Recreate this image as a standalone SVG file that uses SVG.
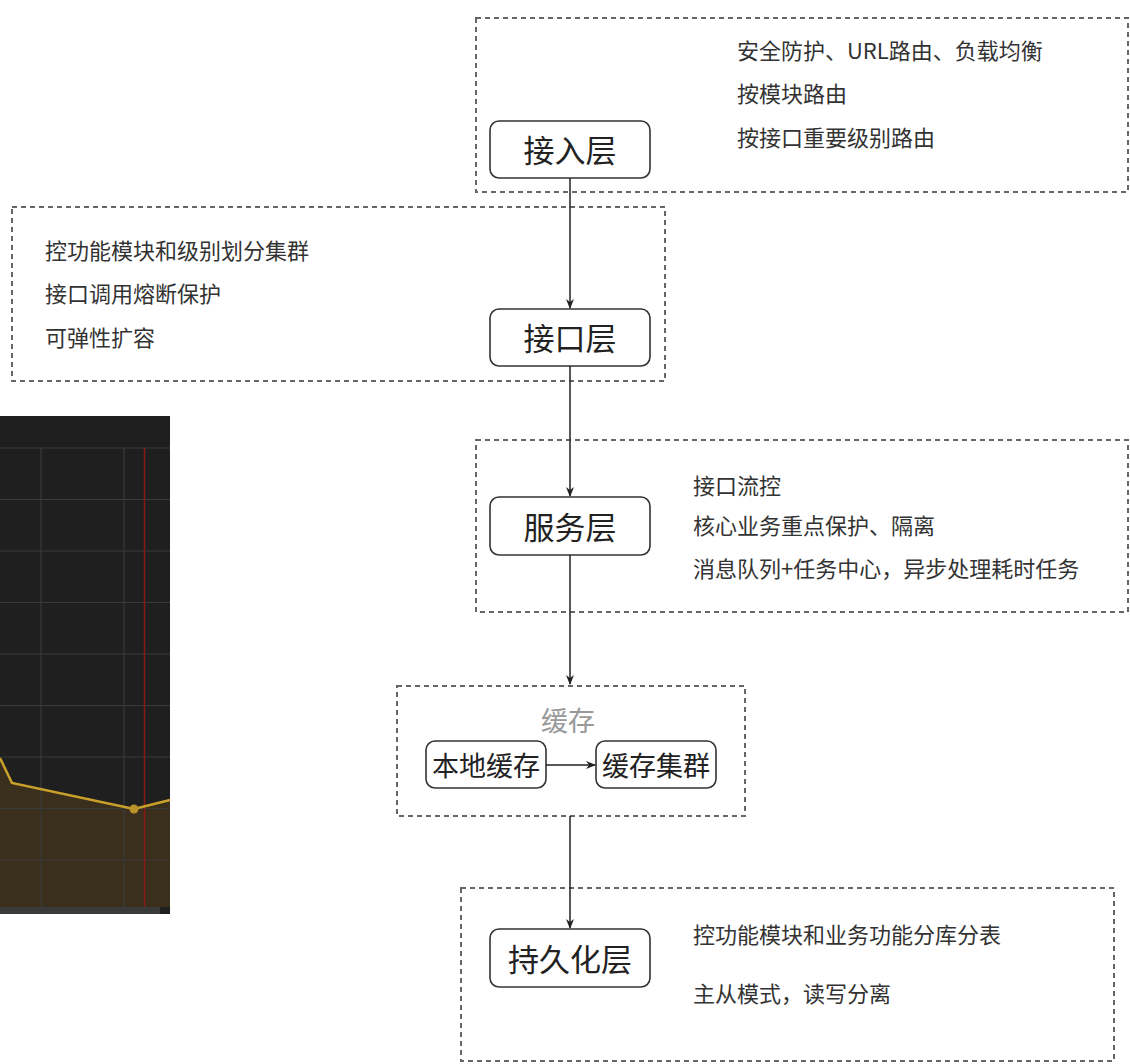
<svg xmlns="http://www.w3.org/2000/svg" width="1130" height="1064" viewBox="0 0 1130 1064">
<style>
.grp{fill:none;stroke:#666;stroke-width:2;stroke-dasharray:5 4}
.box{fill:#fff;stroke:#333;stroke-width:1.6}
.lbl{font-family:"Noto Sans CJK SC","Liberation Sans",sans-serif;font-size:31px;fill:#222;text-anchor:middle;dominant-baseline:central}
.sm{font-family:"Noto Sans CJK SC","Liberation Sans",sans-serif;font-size:27px;fill:#222;text-anchor:middle;dominant-baseline:central}
.note{font-family:"Noto Sans CJK SC","Liberation Sans",sans-serif;font-size:22px;fill:#333;dominant-baseline:central}
.edge{fill:none;stroke:#222;stroke-width:1.5}
.grid{stroke:#3a3a3a;stroke-width:1.2}
</style>
<defs>
<marker id="arr" viewBox="0 0 10 8" refX="9" refY="4" markerWidth="10" markerHeight="8" markerUnits="userSpaceOnUse" orient="auto">
<path d="M0,0 L10,4 L0,8 L3,4 z" fill="#222"/>
</marker>
</defs>
<rect width="1130" height="1064" fill="#fff"/>
<g id="chart">
<rect x="0" y="416" width="170" height="498" fill="#1f1f1f"/>
<path d="M0,758 L12,783 L134,809 L170,800 L170,907 L0,907 z" fill="#3a2f1d"/>
<g class="grid">
<line x1="0" y1="448" x2="170" y2="448"/>
<line x1="0" y1="499.5" x2="170" y2="499.5"/>
<line x1="0" y1="551" x2="170" y2="551"/>
<line x1="0" y1="602.5" x2="170" y2="602.5"/>
<line x1="0" y1="654" x2="170" y2="654"/>
<line x1="0" y1="705.5" x2="170" y2="705.5"/>
<line x1="0" y1="757" x2="170" y2="757"/>
<line x1="0" y1="808.5" x2="170" y2="808.5"/>
<line x1="0" y1="860" x2="170" y2="860"/>
<line x1="41" y1="448" x2="41" y2="907"/>
<line x1="124" y1="448" x2="124" y2="907"/>
</g>
<line x1="144.5" y1="448" x2="144.5" y2="907" stroke="#8a1a1a" stroke-width="1.5"/>
<path d="M0,758 L12,783 L134,809 L170,800" fill="none" stroke="#c9a12a" stroke-width="2.5"/>
<circle cx="134" cy="809" r="4.5" fill="#b8922a"/>
<rect x="0" y="907" width="160" height="7" fill="#3a3a3a"/>
</g>
<g id="group-access">
<rect class="grp" x="476" y="18" width="652" height="174"/>
<text class="note" x="737" y="49">安全防护、URL路由、负载均衡</text>
<text class="note" x="737" y="92">按模块路由</text>
<text class="note" x="737" y="136">按接口重要级别路由</text>
</g>
<g id="group-interface">
<rect class="grp" x="12" y="207" width="653" height="174"/>
<text class="note" x="45" y="249">控功能模块和级别划分集群</text>
<text class="note" x="45" y="292">接口调用熔断保护</text>
<text class="note" x="45" y="336">可弹性扩容</text>
</g>
<g id="group-service">
<rect class="grp" x="476" y="440" width="652" height="172"/>
<text class="note" x="693" y="484">接口流控</text>
<text class="note" x="693" y="524">核心业务重点保护、隔离</text>
<text class="note" x="693" y="567">消息队列+任务中心，异步处理耗时任务</text>
</g>
<g id="group-cache">
<rect class="grp" x="397" y="686" width="348" height="130"/>
<text class="sm" x="568" y="719" style="fill:#999">缓存</text>
</g>
<g id="group-persist">
<rect class="grp" x="461" y="888" width="653" height="173"/>
<text class="note" x="693" y="933">控功能模块和业务功能分库分表</text>
<text class="note" x="693" y="992">主从模式，读写分离</text>
</g>
<g id="node-access">
<rect class="box" x="490" y="121" width="160" height="57" rx="9"/>
<text class="lbl" x="570" y="148.5">接入层</text>
</g>
<g id="node-interface">
<rect class="box" x="490" y="309" width="160" height="57" rx="9"/>
<text class="lbl" x="570" y="336.5">接口层</text>
</g>
<g id="node-service">
<rect class="box" x="490" y="497" width="160" height="58" rx="9"/>
<text class="lbl" x="570" y="525">服务层</text>
</g>
<g id="node-localcache">
<rect class="box" x="426" y="741" width="120" height="47" rx="9"/>
<text class="sm" x="486" y="764">本地缓存</text>
</g>
<g id="node-cachecluster">
<rect class="box" x="596" y="741" width="120" height="47" rx="9"/>
<text class="sm" x="656" y="764">缓存集群</text>
</g>
<g id="node-persist">
<rect class="box" x="490" y="929" width="160" height="58" rx="9"/>
<text class="lbl" x="570" y="957">持久化层</text>
</g>
<g id="connectors">
<line class="edge" x1="570" y1="178" x2="570" y2="308" marker-end="url(#arr)"/>
<line class="edge" x1="570" y1="366" x2="570" y2="496" marker-end="url(#arr)"/>
<line class="edge" x1="570" y1="555" x2="570" y2="684" marker-end="url(#arr)"/>
<line class="edge" x1="546" y1="765" x2="595" y2="765" marker-end="url(#arr)"/>
<line class="edge" x1="570" y1="816" x2="570" y2="928" marker-end="url(#arr)"/>
</g>
</svg>
